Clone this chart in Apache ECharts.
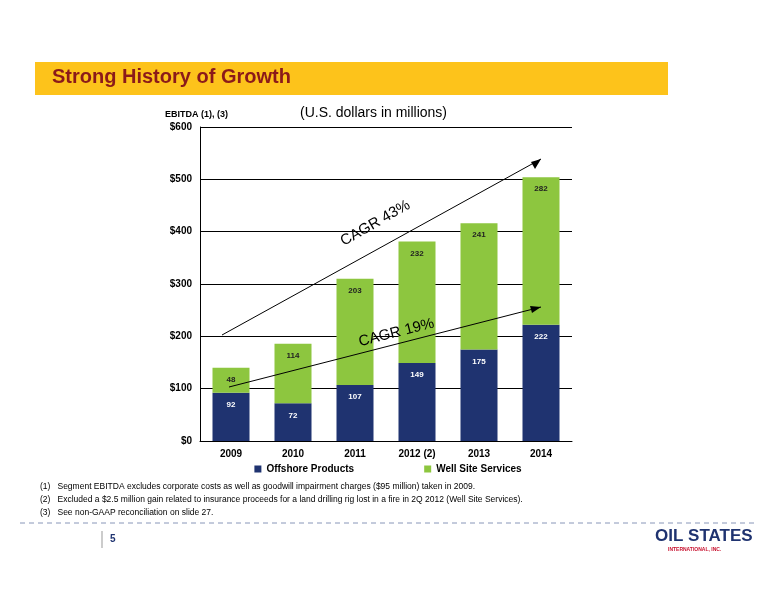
<!DOCTYPE html>
<html><head><meta charset="utf-8">
<script src="https://cdn.jsdelivr.net/npm/echarts@6/dist/echarts.min.js"></script>
<style>body{margin:0;background:#fff}#c{width:776px;height:600px}</style>
</head><body><div id="c"></div>
<script>
const categories = ['2009','2010','2011','2012 (2)','2013','2014'];
const offshore = [92,72,107,149,175,222];
const wellSite = [48,114,203,232,241,282];
const yTicks = [0,100,200,300,400,500,600];

const chart = echarts.init(document.getElementById('c'));
const F = 'Arial, Liberation Sans, sans-serif';
chart.setOption({
  animation:false,
  textStyle:{fontFamily:F},
  grid:{left:200,width:372,top:127,height:314},
  legend:{top:459,left:'center',itemWidth:7,itemHeight:7,itemGap:70,icon:'rect',
    textStyle:{fontSize:10,fontWeight:'bold',color:'#000',fontFamily:F},
    data:['Offshore Products','Well Site Services']},
  xAxis:{type:'category',data:categories,axisTick:{show:false},
    axisLine:{lineStyle:{color:'#000'}},
    axisLabel:{color:'#000',fontWeight:'bold',fontSize:10,margin:8}},
  yAxis:{type:'value',min:0,max:600,interval:100,
    axisLine:{show:true,lineStyle:{color:'#000'}},axisTick:{show:false},
    splitLine:{lineStyle:{color:'#000',width:1}},
    axisLabel:{color:'#000',fontWeight:'bold',fontSize:10,formatter:v=>'$'+v}},
  series:[
    {name:'Offshore Products',type:'bar',stack:'a',data:offshore,barWidth:37,
     itemStyle:{color:'#1F3370'},
     label:{show:true,position:'insideTop',distance:8,color:'#fff',fontSize:8,fontWeight:'bold'}},
    {name:'Well Site Services',type:'bar',stack:'a',data:wellSite,
     itemStyle:{color:'#8DC63F'},
     label:{show:true,position:'insideTop',distance:8,color:'#222',fontSize:8,fontWeight:'bold'}}
  ],
  graphic:[
    {type:'rect',z:100,shape:{x:35,y:62,width:633,height:33},style:{fill:'#FDC31B'}},
    {type:'text',z:101,x:52,y:67,style:{text:'Strong History of Growth',font:'bold 20px '+F,fill:'#8B1A1A'}},
    {type:'text',z:101,x:165,y:110,style:{text:'EBITDA (1), (3)',font:'bold 9px '+F,fill:'#000'}},
    {type:'text',z:101,x:300,y:106,style:{text:'(U.S. dollars in millions)',font:'14px '+F,fill:'#000'}},
    {type:'line',z:100,shape:{x1:222,y1:335,x2:541,y2:159},style:{stroke:'#000',lineWidth:1}},
    {type:'polygon',z:100,shape:{points:[[541,159],[531,162],[535,169]]},style:{fill:'#000'}},
    {type:'line',z:100,shape:{x1:229,y1:387,x2:541,y2:307},style:{stroke:'#000',lineWidth:1}},
    {type:'polygon',z:100,shape:{points:[[541,307],[530,306],[532,313]]},style:{fill:'#000'}},
    {type:'text',z:101,x:338,y:236,rotation:0.52,style:{text:'CAGR 43%',font:'15px '+F,fill:'#000'}},
    {type:'text',z:101,x:357,y:335,rotation:0.25,style:{text:'CAGR 19%',font:'15px '+F,fill:'#000'}},
    {type:'text',z:101,x:40,y:482,style:{text:'(1)   Segment EBITDA excludes corporate costs as well as goodwill impairment charges ($95 million) taken in 2009.',font:'8.5px '+F,fill:'#000'}},
    {type:'text',z:101,x:40,y:495,style:{text:'(2)   Excluded a $2.5 million gain related to insurance proceeds for a land drilling rig lost in a fire in 2Q 2012 (Well Site Services).',font:'8.5px '+F,fill:'#000'}},
    {type:'text',z:101,x:40,y:508,style:{text:'(3)   See non-GAAP reconciliation on slide 27.',font:'8.5px '+F,fill:'#000'}},
    {type:'line',z:100,shape:{x1:20,y1:523,x2:756,y2:523},style:{stroke:'#8896B8',lineWidth:1,lineDash:[5,4]}},
    {type:'line',z:100,shape:{x1:102,y1:531,x2:102,y2:548},style:{stroke:'#999',lineWidth:1}},
    {type:'text',z:101,x:110,y:534,style:{text:'5',font:'bold 10px '+F,fill:'#1F3370'}},
    {type:'text',z:101,x:655,y:528,style:{text:'OIL STATES',font:'bold 17px '+F,fill:'#1F3370'}},
    {type:'text',z:101,x:668,y:547,style:{text:'INTERNATIONAL, INC.',font:'bold 5px '+F,fill:'#C8102E'}}
  ]
});
</script></body></html>
